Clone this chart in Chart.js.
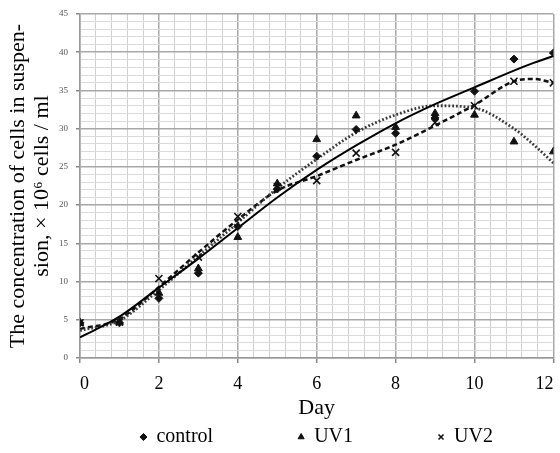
<!DOCTYPE html>
<html>
<head>
<meta charset="utf-8">
<script src="https://cdn.jsdelivr.net/npm/chart.js@4.4.1/dist/chart.umd.min.js"></script>
<style>
  html, body { margin: 0; padding: 0; background: #fff; overflow: hidden; }
  #wrap { width: 560px; height: 453px; }
</style>
</head>
<body>
<div id="wrap"><canvas id="chart" width="560" height="453"></canvas></div>
<script>
// measured points
const days = [0, 1, 2, 3, 4, 5, 6, 7, 8, 9, 10, 11, 12]
const control = [4.6, 4.6, 7.8, 11.1, 17.2, 22.1, 26.4, 29.9, 29.4, 31.4, 34.9, 39.1, 39.9]
const uv1 = [4.6, 4.7, 8.5, 11.7, 15.8, 22.8, 28.6, 31.7, 30.2, 32.0, 31.8, 28.3, 27.0]
const uv2 = [4.6, 4.7, 10.4, 13.2, 18.5, 22.4, 23.2, 26.8, 26.9, 30.8, 33.0, 36.2, 36.0]

// trend lines
const trendDays = [0, 1, 2, 3, 4, 5, 6, 7, 8, 9, 10, 11, 11.5, 12]
const controlTrend = [2.7, 5.4, 9.2, 13.0, 17.0, 21.0, 24.6, 27.8, 30.7, 33.2, 35.4, 37.6, 38.6, 39.5]
const uv1Trend = [3.6, 4.9, 8.9, 13.3, 17.7, 22.2, 26.0, 29.5, 31.8, 33.0, 32.7, 30.0, 27.9, 25.5]
const uv2Trend = [3.8, 5.1, 9.3, 13.8, 18.1, 21.9, 23.8, 25.9, 27.9, 30.4, 33.1, 36.2, 36.5, 36.0]

const xTickLabels = [0, 2, 4, 6, 8, 10, 12]
const yTickLabels = [0, 5, 10, 15, 20, 25, 30, 35, 40, 45]

const serif = 'Liberation Serif'
const gap = '\u00A0'.repeat(17)

const pts = (xs, ys) => xs.map((x, i) => ({ x, y: ys[i] }))
const isMajor = (v, list) => list.some(t => Math.abs(t - v) < 1e-6)

const markers = (label, data, style, radius) => ({
    label,
    data: pts(days, data),
    showLine: false,
    pointStyle: style,
    pointRadius: radius,
    backgroundColor: '#111',
    borderColor: '#111',
    borderWidth: style === 'crossRot' ? 1.6 : 1
})

const trend = (data, color, width, dash) => ({
    label: '',
    data: pts(trendDays, data),
    showLine: true,
    pointRadius: 0,
    borderColor: color,
    borderWidth: width,
    borderDash: dash,
    cubicInterpolationMode: 'monotone'
})

new Chart(document.getElementById('chart'), {
    type: 'scatter',
    data: {
        datasets: [
            markers('control', control, 'rectRot', 4),
            markers('UV1', uv1, 'triangle', 4.5),
            markers('UV2', uv2, 'crossRot', 5),
            trend(controlTrend, '#000', 2, []),
            trend(uv1Trend, '#3a3a3a', 2.8, [1.8, 2]),
            trend(uv2Trend, '#111', 2.5, [5, 3])
        ]
    },
    options: {
        responsive: false,
        animation: false,
        devicePixelRatio: 1,
        layout: { padding: { top: 14, left: 0, right: 0, bottom: 0 } },
        plugins: {
            tooltip: { enabled: false },
            legend: {
                position: 'bottom',
                fullSize: false,
                maxHeight: 26,
                labels: {
                    usePointStyle: true,
                    boxWidth: 6,
                    boxHeight: 5,
                    padding: 0,
                    color: '#000',
                    font: { family: serif, size: 20 },
                    generateLabels: chart => Chart.defaults.plugins.legend.labels.generateLabels(chart)
                        .filter(item => item.datasetIndex < 3)
                        .map(item => ({ ...item, text: item.datasetIndex < 2 ? item.text + gap : item.text }))
                }
            }
        },
        scales: {
            x: {
                type: 'linear',
                min: 0,
                max: 12,
                afterFit: s => { s.height = 69; s.paddingLeft = 0; s.paddingRight = 0 },
                ticks: {
                    stepSize: 0.4,
                    autoSkip: false,
                    maxRotation: 0,
                    align: 'inner',
                    padding: 10,
                    color: '#000',
                    font: { family: serif, size: 18 },
                    callback: v => isMajor(v, xTickLabels) ? String(Math.round(v)) : ''
                },
                grid: {
                    color: c => isMajor(c.tick.value, xTickLabels) ? '#a8a8a8' : '#d0d0d0',
                    lineWidth: c => isMajor(c.tick.value, xTickLabels) ? 1.5 : 1,
                    tickLength: 5,
                    tickColor: c => isMajor(c.tick.value, xTickLabels) ? '#888' : 'rgba(0,0,0,0)'
                },
                border: { color: '#999', width: 1.5 },
                title: {
                    display: true,
                    text: 'Day',
                    color: '#000',
                    font: { family: serif, size: 22 },
                    padding: { top: 0, bottom: 6 }
                }
            },
            y: {
                min: 0,
                max: 45,
                afterFit: s => { s.width = 80 },
                ticks: {
                    stepSize: 1,
                    autoSkip: false,
                    padding: 8,
                    color: '#555',
                    font: { family: serif, size: 9 },
                    callback: v => isMajor(v, yTickLabels) ? String(v) : ''
                },
                grid: {
                    color: c => isMajor(c.tick.value, yTickLabels) ? '#a8a8a8' : '#dadada',
                    lineWidth: c => isMajor(c.tick.value, yTickLabels) ? 1.5 : 1,
                    tickLength: 4,
                    tickColor: c => isMajor(c.tick.value, yTickLabels) ? '#888' : 'rgba(0,0,0,0)'
                },
                border: { color: '#999', width: 1.5 },
                title: {
                    display: true,
                    text: ['The concentration of cells in suspen-', 'sion, \u00D7 10\u2076 cells / ml'],
                    color: '#000',
                    font: { family: serif, size: 22, lineHeight: 1.1 },
                    padding: { top: 6, bottom: 0 }
                }
            }
        }
    }
})
</script>
</body>
</html>
